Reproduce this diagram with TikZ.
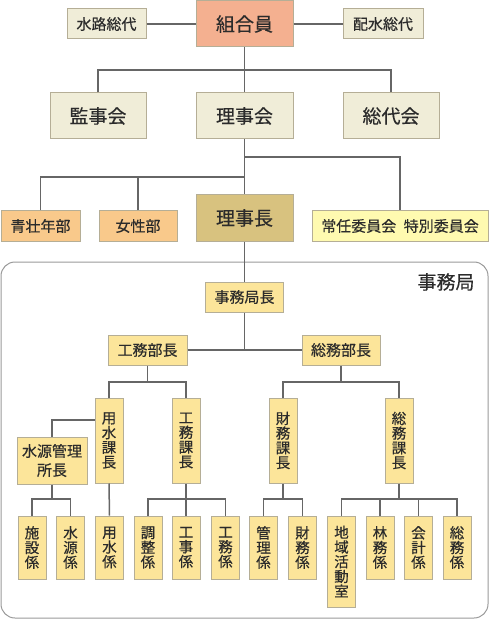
\documentclass[tikz,border=0pt]{standalone}
\usepackage{fontspec}
\setmainfont{Noto Sans CJK JP}[FakeBold=0.4]
\definecolor{beige}{HTML}{F0EDD8}
\definecolor{salmon}{HTML}{F4B090}
\definecolor{orangeb}{HTML}{F9C98B}
\definecolor{tanb}{HTML}{D8C27F}
\definecolor{lyel}{HTML}{FFFAB0}
\definecolor{yel}{HTML}{FCE59A}
\definecolor{edge}{HTML}{B5AE96}
\definecolor{conn}{HTML}{666666}
\definecolor{txt}{HTML}{2B2B2B}
\begin{document}
\begin{tikzpicture}[x=1pt,y=-1pt,
  box/.style={draw=edge,line width=1pt,inner sep=0pt,text=txt,align=center},
  big/.style={box,minimum width=96pt,minimum height=46pt,font=\fontsize{19}{21}\selectfont},
  small/.style={box,minimum height=30pt,font=\fontsize{15}{17}\selectfont},
  vbox/.style={box,fill=yel,minimum width=28pt,font=\fontsize{14.5}{14.7}\selectfont},
  link/.style={draw=conn,line width=1.5pt}]
\useasboundingbox (0,0) rectangle (489,620);
% container
\draw[draw=gray!80,line width=1pt,rounded corners=14pt] (1,262) rectangle (488,618);
\node[text=txt,font=\fontsize{19}{21}\selectfont] (jimukyoku) at (446,282) {事務局};
% top
\node[big,fill=salmon,minimum width=97pt] (kumiai) at (244.5,24) {組合員};
\node[small,fill=beige,minimum width=79pt] (suiro) at (106.5,24) {水路総代};
\node[small,fill=beige,minimum width=80pt] (haisui) at (383,24) {配水総代};
\node[big,fill=beige] (kanji) at (98,116) {監事会};
\node[big,fill=beige,minimum width=97pt] (rijikai) at (244.5,116) {理事会};
\node[big,fill=beige] (sodaikai) at (391,116) {総代会};
\node[small,fill=orangeb,minimum width=79pt] (seiso) at (40.5,226) {青壮年部};
\node[small,fill=orangeb,minimum width=78pt] (josei) at (138,226) {女性部};
\node[big,fill=tanb,minimum width=97pt] (rijicho) at (244.5,218) {理事長};
\node[small,fill=lyel,minimum width=176pt] (iinkai) at (400,226) {常任委員会\hspace{0.5em}特別委員会};
% office
\node[small,fill=yel,minimum width=78pt] (jimukyokucho) at (244.5,297) {事務局長};
\node[small,fill=yel,minimum width=79pt] (komubucho) at (147.5,350) {工務部長};
\node[small,fill=yel,minimum width=78pt] (somubucho) at (341,350) {総務部長};
\node[vbox,minimum height=85pt] (yosuikacho) at (109,440.5) {用\\水\\課\\長};
\node[vbox,minimum height=85pt] (komukacho) at (186,440.5) {工\\務\\課\\長};
\node[vbox,minimum height=85pt] (zaimukacho) at (283,440.5) {財\\務\\課\\長};
\node[vbox,minimum height=85pt] (somukacho) at (399,440.5) {総\\務\\課\\長};
\node[box,fill=yel,minimum width=70pt,minimum height=47pt,font=\fontsize{15}{19}\selectfont] (suigenkanri) at (52,460.5) {水源管理\\所長};
\node[vbox,minimum height=63pt] (shisetsu) at (32,547.5) {施\\設\\係};
\node[vbox,minimum height=63pt] (suigen) at (70.5,547.5) {水\\源\\係};
\node[vbox,minimum height=63pt] (yosui) at (109.5,547.5) {用\\水\\係};
\node[vbox,minimum height=63pt] (chosei) at (148,547.5) {調\\整\\係};
\node[vbox,minimum height=63pt] (koji) at (186,547.5) {工\\事\\係};
\node[vbox,minimum height=63pt] (komu) at (225.5,547.5) {工\\務\\係};
\node[vbox,minimum height=63pt] (kanri) at (263.5,547.5) {管\\理\\係};
\node[vbox,minimum height=63pt] (zaimu) at (302.5,547.5) {財\\務\\係};
\node[vbox,minimum height=91pt] (chiiki) at (341.5,561.5) {地\\域\\活\\動\\室};
\node[vbox,minimum height=63pt] (rinmu) at (380,547.5) {林\\務\\係};
\node[vbox,minimum height=63pt] (kaikei) at (418.5,547.5) {会\\計\\係};
\node[vbox,minimum height=63pt] (somu) at (457,547.5) {総\\務\\係};
% joints
\coordinate (j0) at (244.5,70);
\coordinate (j1) at (244.5,157);
\coordinate (j2) at (244.5,177);
\coordinate (j3) at (244.5,350);
\coordinate (j4) at (147.5,382);
\coordinate (j5) at (341,382);
\coordinate (j6) at (95,420);
\coordinate (j7) at (52,499);
\coordinate (j8) at (186,499);
\coordinate (j9) at (283,499);
\coordinate (j10) at (399,499);
% connectors
\draw[link] (suiro.east) -- (kumiai.west);
\draw[link] (kumiai.east) -- (haisui.west);
\draw[link] (kumiai.south) -- (rijikai.north);
\draw[link] (kanji.north) |- (j0) -| (sodaikai.north);
\draw[link] (rijikai.south) -- (rijicho.north);
\draw[link] (j1) -| (iinkai.north);
\draw[link] (seiso.north) |- (j2);
\draw[link] (josei.north) -- (josei.north |- j2);
\draw[link] (rijicho.south) -- (jimukyokucho.north);
\draw[link] (jimukyokucho.south) -- (j3);
\draw[link] (komubucho.east) -- (somubucho.west);
\draw[link] (komubucho.south) -- (j4);
\draw[link] (yosuikacho.north) |- (j4) -| (komukacho.north);
\draw[link] (somubucho.south) -- (j5);
\draw[link] (zaimukacho.north) |- (j5) -| (somukacho.north);
\draw[link] (suigenkanri.north) |- (j6);
\draw[link] (suigenkanri.south) -- (j7);
\draw[link] (shisetsu.north) |- (j7) -| (suigen.north);
\draw[link] (yosuikacho.south) -- (yosui.north);
\draw[link] (komukacho.south) -- (koji.north);
\draw[link] (chosei.north) |- (j8) -| (komu.north);
\draw[link] (zaimukacho.south) -- (j9);
\draw[link] (kanri.north) |- (j9) -| (zaimu.north);
\draw[link] (somukacho.south) -- (j10);
\draw[link] (chiiki.north) |- (j10) -| (somu.north);
\draw[link] (rinmu.north) -- (rinmu.north |- j10);
\draw[link] (kaikei.north) -- (kaikei.north |- j10);
\end{tikzpicture}
\end{document}
